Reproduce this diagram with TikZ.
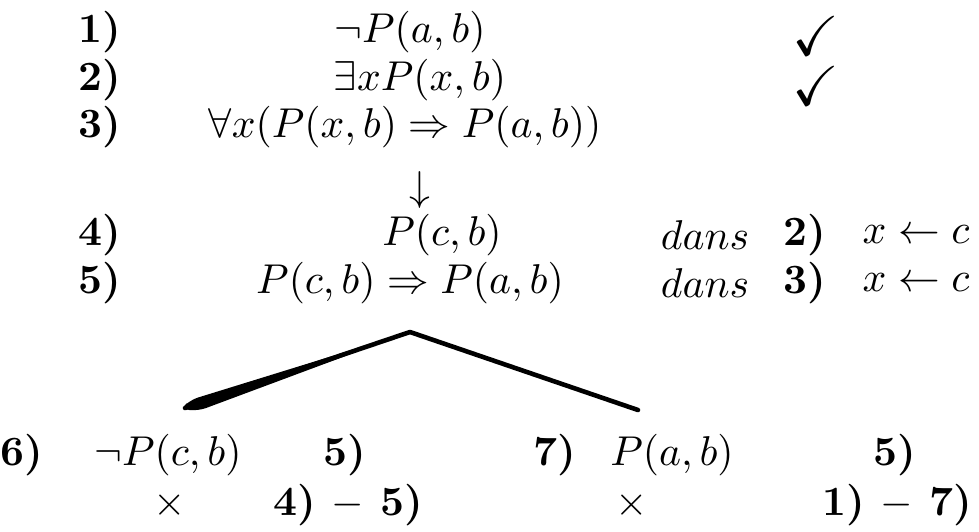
\documentclass[tikz,border=0pt]{standalone}
\usepackage{amsmath,amssymb}
\usepackage{tikz}
\usetikzlibrary{calc}

\begin{document}
\begin{tikzpicture}[
  x=0.24pt,
  y=-0.24pt,
  num/.style={font=\bfseries,inner sep=0pt},
  frm/.style={inner sep=0pt},
  tick/.style={inner sep=0pt,scale=1.35},
  branch/.style={line width=1.1pt,line cap=round,line join=round}
]
  \useasboundingbox (0,0) rectangle (979,531);
  % premisses
  \node[num] (n1) at (100,32) {1)};
  \node[num] (n2) at (100,80) {2)};
  \node[num] (n3) at (100,127) {3)};
  \node[frm] (f1) at (410,32) {$\neg P(a,b)$};
  \node[frm] (f2) at (420,80) {$\exists x P(x,b)$};
  \node[frm] (f3) at (405,127) {$\forall x(P(x,b) \Rightarrow P(a,b))$};
  \node[tick] (c1) at (816,36) {$\checkmark$};
  \node[tick] (c2) at (816,86) {$\checkmark$};
  \node[frm] (dn) at (420,190) {$\downarrow$};

  % instanciations
  \node[num] (n4) at (100,235) {4)};
  \node[num] (n5) at (100,283) {5)};
  \node[frm] (f4) at (442,235) {$P(c,b)$};
  \node[frm] (f5) at (410,283) {$P(c,b) \Rightarrow P(a,b)$};
  \node[frm] (d4) at (705,235) {$dans$};
  \node[frm] (d5) at (705,283) {$dans$};
  \node[num] (r4) at (805,235) {2)};
  \node[num] (r5) at (805,283) {3)};
  \node[frm] (s4) at (916,235) {$x \leftarrow c$};
  \node[frm] (s5) at (916,283) {$x \leftarrow c$};

  % branches
  \coordinate (top) at (410,332);
  \coordinate (lend) at (185,408);
  \coordinate (rend) at (638,410);
  \draw[branch] (lend) -- (top) -- (rend);
  \fill[rounded corners=2pt] (top) -- (190,400) -- (181,409) -- (198,411) -- cycle;

  \node[num] (n6) at (22,455) {6)};
  \node[frm] (f6) at (168,455) {$\neg P(c,b)$};
  \node[num] (r6) at (345,455) {5)};
  \node[num] (n7) at (555,455) {7)};
  \node[frm] (f7) at (672,455) {$P(a,b)$};
  \node[num] (r7) at (895,455) {5)};
  \node[frm] (x6) at (170,505) {$\times$};
  \node[num] (k6) at (348,505) {4) $-$ 5)};
  \node[frm] (x7) at (632,505) {$\times$};
  \node[num] (k7) at (897,505) {1) $-$ 7)};
\end{tikzpicture}
\end{document}
